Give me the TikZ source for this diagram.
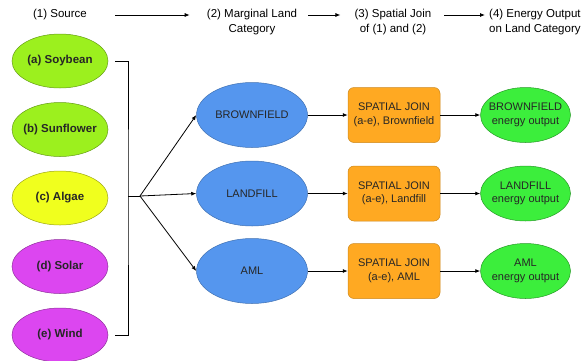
\documentclass[tikz,border=0pt]{standalone}
\usepackage{fontspec}
\setmainfont{Liberation Sans}
\usepackage{tikz}
\usetikzlibrary{arrows.meta, positioning, shapes.geometric, calc}
\definecolor{limegr}{HTML}{9CF01E}
\definecolor{algaeyel}{HTML}{F0FF1E}
\definecolor{solarmag}{HTML}{DC46F0}
\definecolor{landblue}{HTML}{5596EE}
\definecolor{joinorange}{HTML}{FFA922}
\definecolor{outgreen}{HTML}{3CEE3C}
\newcommand{\HeadFont}{\fontsize{11.5}{15}\selectfont}
\newcommand{\BoxFont}{\fontsize{11}{13.5}\selectfont}
\tikzset{
    ellip/.style={ellipse, inner sep=-0.3cm},
    source/.style={ellip, draw=#1!65!black, fill=#1, line width=0.5pt,
      minimum width=96pt, minimum height=54pt,
      font=\fontsize{11.5}{13}\selectfont\bfseries, text=black!85},
    land/.style={ellip, draw=landblue!75!black, fill=landblue, line width=0.5pt,
      minimum width=111pt, minimum height=65pt, font=\BoxFont, text=black!85},
    joinbox/.style={rectangle, rounded corners=6pt, draw=joinorange!80!black,
      fill=joinorange, line width=0.5pt, minimum width=92pt, minimum height=55pt,
      align=center, font=\BoxFont, text=black!85, inner sep=0pt},
    outp/.style={ellip, draw=outgreen!65!black, fill=outgreen, line width=0.5pt,
      minimum width=90pt, minimum height=55pt, align=center, font=\BoxFont,
      text=black!85},
    head/.style={align=center, font=\HeadFont, inner sep=0pt},
    flow/.style={-{Latex[length=5pt, width=4pt]}, line width=0.8pt},
}

\begin{document}
\begin{tikzpicture}[x=1pt, y=-1pt]
    \tikzset{
      node distance=14pt
    }
    \useasboundingbox (0,0) rectangle (584,360);

    % header
    \node[head] (h1) at (60,15) {(1) Source};
    \node[head] (h2) at (252,22.5) {(2) Marginal Land\\Category};
    \node[head] (h3) at (393,22.5) {(3) Spatial Join\\of (1) and (2)};
    \node[head, anchor=west, align=left] (h4) at (489,22.5) {(4) Energy Output\\on Land Category};

    \draw[flow, shorten <=28pt, shorten >=17pt] (h1.east) -- (h1.east -| h2.west);
    \draw[flow, shorten <=10pt, shorten >=14pt] (h1.east -| 298,0) -- (h1.east -| h3.west);
    \draw[flow, shorten <=10pt, shorten >=4pt] (h1.east -| 434,0) -- (h1.east -| h4.west);

    % sources
    \node[source=limegr] (soy) at (60,61) {(a) Soybean};
    \node[source=limegr, below=of soy] (sun) {(b) Sunflower};
    \node[source=algaeyel, below=of sun] (alg) {(c) Algae};
    \node[source=solarmag, below=of alg] (sol) {(d) Solar};
    \node[source=solarmag, below=of sol] (wnd) {(e) Wind};

    % marginal land
    \node[land] (bf) at (252,115) {BROWNFIELD};
    \node[land, below=13pt of bf] (lf) {LANDFILL};
    \node[land, below=12pt of lf] (aml) {AML};

    % spatial join
    \node[joinbox, right=40pt of bf] (jbf) {SPATIAL JOIN\\(a-e), Brownfield};
    \node[joinbox, right=40pt of lf] (jlf) {SPATIAL JOIN\\(a-e), Landfill};
    \node[joinbox, right=40pt of aml] (jaml) {SPATIAL JOIN\\(a-e), AML};

    % energy output
    \node[outp, right=40pt of jbf] (obf) {BROWNFIELD\\energy output};
    \node[outp, right=40pt of jlf] (olf) {LANDFILL\\energy output};
    \node[outp, right=40pt of jaml] (oaml) {AML\\energy output};

    % bracket and fork
    \coordinate (fork) at (140,196);
    \draw[line width=0.8pt] ([xshift=7pt]soy.east) -| ([xshift=-12pt]fork)
      |- ([xshift=7pt]wnd.east);
    \draw[line width=0.8pt] ([xshift=-12pt]fork) -- (fork);

    \draw[flow] (fork) -- (bf.west);
    \draw[flow] (fork) -- (lf.west);
    \draw[flow] (fork) -- (aml.west);

    \draw[flow] (bf) -- (jbf);
    \draw[flow] (lf) -- (jlf);
    \draw[flow] (aml) -- (jaml);
    \draw[flow] (jbf) -- (obf);
    \draw[flow] (jlf) -- (olf);
    \draw[flow] (jaml) -- (oaml);
\end{tikzpicture}
\end{document}
